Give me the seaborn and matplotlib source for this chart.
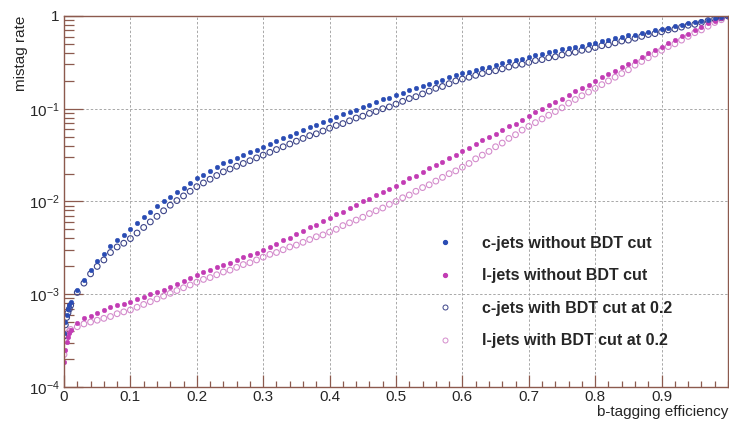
import matplotlib
matplotlib.use('Agg')
import matplotlib.pyplot as plt
import matplotlib.ticker as ticker
from matplotlib.lines import Line2D
import seaborn as sea
import numpy as np
import pandas as pd

# b-tagging efficiency points, with a few extra near zero where the curves are steep
eff = [0.0, 0.002, 0.004, 0.006, 0.008] + [round(0.01 * i, 2) for i in range(1, 101)]

# log10 of the mistag rate at each efficiency point
c_nocut_log = [-3.42, -3.30, -3.22, -3.16, -3.12,
               -3.08, -2.95, -2.85, -2.74, -2.64, -2.57, -2.48, -2.42, -2.36, -2.30,
               -2.23, -2.17, -2.11, -2.05, -2.00, -1.95, -1.90, -1.85, -1.80, -1.75,
               -1.71, -1.67, -1.63, -1.59, -1.56, -1.53, -1.50, -1.47, -1.44, -1.41,
               -1.38, -1.35, -1.32, -1.29, -1.26, -1.23, -1.20, -1.17, -1.14, -1.12,
               -1.09, -1.06, -1.04, -1.01, -0.98, -0.96, -0.93, -0.90, -0.88, -0.85,
               -0.83, -0.80, -0.78, -0.76, -0.73, -0.71, -0.69, -0.66, -0.64, -0.62,
               -0.60, -0.58, -0.56, -0.55, -0.53, -0.51, -0.49, -0.47, -0.46, -0.44,
               -0.42, -0.41, -0.39, -0.38, -0.36, -0.35, -0.33, -0.32, -0.30, -0.29,
               -0.27, -0.26, -0.24, -0.23, -0.21, -0.20, -0.18, -0.17, -0.15, -0.14,
               -0.13, -0.11, -0.10, -0.08, -0.07, -0.05, -0.04, -0.02, -0.01, 0.00]

l_nocut_log = [-3.73, -3.60, -3.52, -3.46, -3.42,
               -3.39, -3.31, -3.26, -3.23, -3.20, -3.17, -3.14, -3.12, -3.10, -3.08,
               -3.05, -3.03, -3.00, -2.98, -2.95, -2.92, -2.89, -2.86, -2.82, -2.79,
               -2.76, -2.74, -2.71, -2.68, -2.66, -2.63, -2.60, -2.58, -2.55, -2.52,
               -2.49, -2.46, -2.42, -2.39, -2.35, -2.32, -2.28, -2.25, -2.21, -2.18,
               -2.14, -2.11, -2.07, -2.04, -2.00, -1.97, -1.93, -1.90, -1.86, -1.83,
               -1.79, -1.75, -1.72, -1.68, -1.64, -1.61, -1.57, -1.53, -1.50, -1.46,
               -1.42, -1.38, -1.34, -1.31, -1.27, -1.23, -1.19, -1.16, -1.12, -1.08,
               -1.04, -1.00, -0.96, -0.93, -0.89, -0.85, -0.81, -0.78, -0.74, -0.70,
               -0.66, -0.63, -0.59, -0.55, -0.52, -0.48, -0.44, -0.40, -0.37, -0.33,
               -0.29, -0.26, -0.22, -0.19, -0.15, -0.12, -0.08, -0.05, -0.02, 0.00]

c_cut_log = [-3.45, -3.33, -3.25, -3.20, -3.16,
             -3.12, -2.98, -2.88, -2.78, -2.70, -2.63, -2.55, -2.49, -2.45, -2.40,
             -2.34, -2.28, -2.22, -2.16, -2.10, -2.04, -1.99, -1.94, -1.89, -1.84,
             -1.80, -1.76, -1.72, -1.68, -1.65, -1.62, -1.59, -1.56, -1.53, -1.50,
             -1.47, -1.44, -1.41, -1.38, -1.35, -1.32, -1.29, -1.27, -1.24, -1.21,
             -1.18, -1.16, -1.13, -1.10, -1.08, -1.05, -1.03, -1.00, -0.98, -0.95,
             -0.92, -0.89, -0.87, -0.84, -0.81, -0.78, -0.76, -0.73, -0.70, -0.68,
             -0.66, -0.64, -0.62, -0.60, -0.59, -0.57, -0.55, -0.53, -0.52, -0.50,
             -0.48, -0.47, -0.45, -0.44, -0.42, -0.40, -0.39, -0.37, -0.36, -0.34,
             -0.32, -0.31, -0.29, -0.27, -0.26, -0.24, -0.22, -0.20, -0.19, -0.17,
             -0.15, -0.14, -0.12, -0.10, -0.09, -0.07, -0.05, -0.03, -0.02, 0.00]

l_cut_log = [-3.65, -3.50, -3.45, -3.42, -3.40,
             -3.38, -3.35, -3.32, -3.30, -3.28, -3.26, -3.24, -3.21, -3.19, -3.17,
             -3.14, -3.11, -3.08, -3.05, -3.02, -2.99, -2.96, -2.93, -2.90, -2.87,
             -2.84, -2.82, -2.79, -2.76, -2.74, -2.71, -2.68, -2.66, -2.63, -2.60,
             -2.57, -2.55, -2.52, -2.49, -2.47, -2.44, -2.41, -2.38, -2.36, -2.33,
             -2.30, -2.26, -2.23, -2.20, -2.17, -2.13, -2.10, -2.07, -2.03, -2.00,
             -1.96, -1.93, -1.89, -1.85, -1.82, -1.78, -1.74, -1.70, -1.67, -1.63,
             -1.59, -1.54, -1.50, -1.46, -1.41, -1.37, -1.32, -1.28, -1.23, -1.19,
             -1.15, -1.11, -1.07, -1.03, -0.99, -0.94, -0.90, -0.86, -0.82, -0.78,
             -0.74, -0.70, -0.66, -0.62, -0.58, -0.53, -0.49, -0.45, -0.41, -0.37,
             -0.33, -0.30, -0.26, -0.22, -0.18, -0.15, -0.11, -0.07, -0.04, 0.00]

labels = ['c-jets without BDT cut', 'l-jets without BDT cut',
          'c-jets with BDT cut at 0.2', 'l-jets with BDT cut at 0.2']
y_ticks = [1e-4, 1e-3, 1e-2, 1e-1, 1]
y_tick_labels = [r'$\mathregular{10^{-4}}$', r'$\mathregular{10^{-3}}$',
                 r'$\mathregular{10^{-2}}$', r'$\mathregular{10^{-1}}$', '1']
x_ticks = [0, 0.1, 0.2, 0.3, 0.4, 0.5, 0.6, 0.7, 0.8, 0.9]
x_tick_labels = ['0', '0.1', '0.2', '0.3', '0.4', '0.5', '0.6', '0.7', '0.8', '0.9']

# long form table for seaborn
frames = []
for lab, vals in zip(labels, [c_nocut_log, l_nocut_log, c_cut_log, l_cut_log]):
    frames.append(pd.DataFrame({'eff': eff, 'mistag': 10 ** np.array(vals), 'sample': lab}))
df = pd.concat(frames, ignore_index=True)

sea.set_style('white')
plt.rcParams['font.family'] = ['Liberation Sans', 'DejaVu Sans']
plt.rcParams['mathtext.fontset'] = 'custom'
plt.rcParams['mathtext.rm'] = 'Liberation Sans'

frame_col = '#8c5a4e'
blue = '#2a4cb4'
magenta = '#c23cb4'
blue_open = '#3c4488'
pink_open = '#d48ccc'

fig = plt.figure(figsize=(7.29, 4.23), dpi=100)
ax = fig.add_axes([0.0878, 0.0851, 0.9108, 0.8771])

# open markers first, the filled ones sit on top
sea.scatterplot(data=df[df['sample'] == labels[3]], x='eff', y='mistag', ax=ax,
                marker='o', s=17, facecolor='none', edgecolor=pink_open, linewidth=0.8)
sea.scatterplot(data=df[df['sample'] == labels[2]], x='eff', y='mistag', ax=ax,
                marker='o', s=17, facecolor='none', edgecolor=blue_open, linewidth=0.8)
sea.scatterplot(data=df[df['sample'] == labels[1]], x='eff', y='mistag', ax=ax,
                marker='o', s=11, color=magenta, edgecolor=magenta, linewidth=0.3)
sea.scatterplot(data=df[df['sample'] == labels[0]], x='eff', y='mistag', ax=ax,
                marker='o', s=11, color=blue, edgecolor=blue, linewidth=0.3)

ax.set_yscale('log')
ax.set_xlim(0, 1)
ax.set_ylim(1e-4, 1)
ax.set_xticks(x_ticks)
ax.set_xticklabels(x_tick_labels)
ax.xaxis.set_minor_locator(ticker.MultipleLocator(0.02))
ax.yaxis.set_major_locator(ticker.FixedLocator(y_ticks))
ax.yaxis.set_major_formatter(ticker.FixedFormatter(y_tick_labels))
ax.yaxis.set_minor_locator(ticker.LogLocator(base=10, subs=np.arange(2, 10)))
ax.yaxis.set_minor_formatter(ticker.NullFormatter())

ax.grid(True, which='major', linestyle=(0, (2.5, 2)), color='#a8a8a8', linewidth=0.7)
for sp in ax.spines.values():
    sp.set_color(frame_col)
    sp.set_linewidth(1.0)
ax.tick_params(axis='both', which='both', direction='in', color=frame_col,
               labelsize=11, width=0.9, bottom=True, left=True)
ax.tick_params(axis='x', which='major', length=9, pad=2.5)
ax.tick_params(axis='x', which='minor', length=4.5)
ax.tick_params(axis='y', which='major', length=14, pad=3)
ax.tick_params(axis='y', which='minor', length=7)

ax.set_xlabel('b-tagging efficiency', fontsize=11, loc='right', labelpad=0.5)
ax.set_ylabel('mistag rate', fontsize=11, loc='top', labelpad=1)

handles = [
    Line2D([], [], marker='o', linestyle='', markersize=2.8, markerfacecolor=blue, markeredgecolor=blue),
    Line2D([], [], marker='o', linestyle='', markersize=2.8, markerfacecolor=magenta, markeredgecolor=magenta),
    Line2D([], [], marker='o', linestyle='', markersize=3.6, markerfacecolor='none',
           markeredgecolor=blue_open, markeredgewidth=0.7),
    Line2D([], [], marker='o', linestyle='', markersize=3.6, markerfacecolor='none',
           markeredgecolor=pink_open, markeredgewidth=0.7),
]
leg = ax.legend(handles, labels, loc='upper left', bbox_to_anchor=(0.562, 0.408),
                frameon=False, borderaxespad=0, borderpad=0, handlelength=1.0,
                handletextpad=1.8, labelspacing=1.1,
                prop={'family': 'Liberation Sans', 'weight': 'bold', 'size': 11.5})

plt.savefig('out.png', dpi=100)
